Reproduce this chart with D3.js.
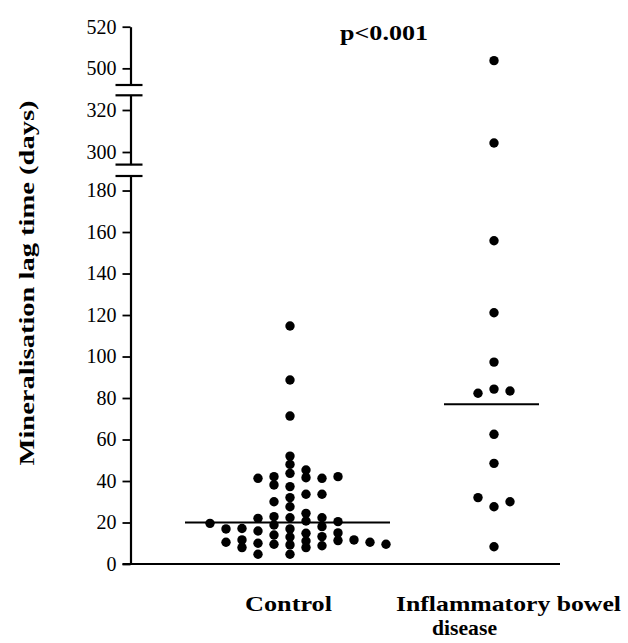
<!DOCTYPE html>
<html>
<head>
<meta charset="utf-8">
<script src="https://cdn.jsdelivr.net/npm/d3@7"></script>
<style>
  html, body { margin: 0; padding: 0; background: #fff; }
  svg { display: block; }
  text { font-family: "Liberation Serif", "Times New Roman", serif; fill: #000; }
</style>
</head>
<body>
<div id="chart"></div>
<script>
// ---- data ----
const groups = ["Control", "Inflammatory bowel disease"];

// Control group: dot value and its column slot in the dot plot
const controlValues = [
  19.6,
  16.9, 10.5,
  17.1, 11.6, 7.9,
  41.3, 22, 15.9, 10, 4.7,
  42.1, 38.1, 30, 22.8, 18.8, 14, 9.5,
  114.7, 88.7, 71.3, 52, 48, 43.7, 37.3, 32, 27.6, 22.3, 16.9, 13, 9.2, 4.7,
  45.3, 41.6, 33.6, 24.4, 20.7, 14.8, 11.1, 7.9,
  41.3, 33.6, 22.3, 18, 13.2, 8.8,
  42.1, 20.4, 15, 11.3,
  11.6,
  10.5,
  9.5
];
const controlSlots = [
  -5,
  -4, -4,
  -3, -3, -3,
  -2, -2, -2, -2, -2,
  -1, -1, -1, -1, -1, -1, -1,
  0, 0, 0, 0, 0, 0, 0, 0, 0, 0, 0, 0, 0, 0,
  1, 1, 1, 1, 1, 1, 1, 1,
  2, 2, 2, 2, 2, 2,
  3, 3, 3, 3,
  4,
  5,
  6
];

const ibdValues = [503.7, 304.3, 155.8, 121.1, 97.3, 84.3, 82.3, 83.4, 62.5, 48.5, 32, 27.6, 30, 8.3];
const ibdSlots  = [0,     0,     0,     0,     0,    0,    -1,   1,    0,    0,    -1, 0,    1,  0];

const medians = [20, 77];

// broken y axis: three segments
const segDomains = [[0, 187], [294, 327], [492, 520]];
const segTicks = [
  [0, 20, 40, 60, 80, 100, 120, 140, 160, 180],
  [300, 320],
  [500, 520]
];
const pText = "p<0.001";
const yTitle = "Mineralisation lag time (days)";
const xLabels = [["Control"], ["Inflammatory bowel", "disease"]];

// ---- layout ----
const W = 628, H = 643;
const axisX = 130.5;
const svg = d3.select("#chart").append("svg").attr("width", W).attr("height", H);

const segRanges = [[564, 176], [164.6, 95.3], [85, 26.7]];
const segScales = segDomains.map((d, i) => d3.scaleLinear().domain(d).range(segRanges[i]));
function yPos(v) {
  for (let i = 0; i < segScales.length; i++) {
    const d = segDomains[i];
    if (v >= d[0] && v <= d[1]) return segScales[i](v);
  }
  return null;
}

const x = d3.scalePoint().domain(groups).range([290, 494]).padding(0);
const slotW = 16;

// y axis segments
segScales.forEach((s, i) => {
  const g = svg.append("g").attr("transform", `translate(${axisX},0)`)
    .call(d3.axisLeft(s).tickValues(segTicks[i]).tickSize(8).tickSizeOuter(0).tickPadding(6).tickFormat(d3.format("d")));
  g.select(".domain").attr("stroke-width", 2.2);
  g.selectAll(".tick line").attr("stroke-width", 1.8);
  g.selectAll(".tick text").style("font-size", "20px").attr("font-family", "Liberation Serif");
});
// break marks
const breaks = [segRanges[0][1], segRanges[1][0], segRanges[1][1], segRanges[2][0]];
svg.append("g").selectAll("line").data(breaks).join("line")
  .attr("x1", axisX - 15).attr("x2", axisX + 12)
  .attr("y1", d => d).attr("y2", d => d)
  .attr("stroke", "#000").attr("stroke-width", 2.2);

// x axis baseline
svg.append("line").attr("x1", axisX - 8).attr("x2", 560)
  .attr("y1", segScales[0](0)).attr("y2", segScales[0](0))
  .attr("stroke", "#000").attr("stroke-width", 2.2);

// medians
const medHalf = [[-105, 100], [-50, 45]];
svg.append("g").selectAll("line").data(medians).join("line")
  .attr("x1", (d, i) => x(groups[i]) + medHalf[i][0])
  .attr("x2", (d, i) => x(groups[i]) + medHalf[i][1])
  .attr("y1", d => yPos(d)).attr("y2", d => yPos(d))
  .attr("stroke", "#000").attr("stroke-width", 2.2);

// dots
const pts = [];
controlValues.forEach((v, i) => pts.push({ g: groups[0], v, s: controlSlots[i] }));
ibdValues.forEach((v, i) => pts.push({ g: groups[1], v, s: ibdSlots[i] }));
svg.append("g").selectAll("circle").data(pts).join("circle")
  .attr("cx", d => x(d.g) + d.s * slotW)
  .attr("cy", d => yPos(d.v))
  .attr("r", 4.7)
  .attr("fill", "#000");

// p value
svg.append("text").attr("x", 384).attr("y", 40).attr("text-anchor", "middle")
  .attr("font-weight", "bold").style("font-size", "22px")
  .attr("textLength", 88).attr("lengthAdjust", "spacingAndGlyphs").text(pText);

// y title
svg.append("text").attr("transform", `translate(34,283) rotate(-90)`)
  .attr("text-anchor", "middle").attr("font-weight", "bold").style("font-size", "22px")
  .attr("textLength", 365).attr("lengthAdjust", "spacingAndGlyphs").text(yTitle);

// x labels
const xLabelPos = [
  [{ cx: 288.5, y: 611, len: 87 }],
  [{ cx: 508.5, y: 611, len: 225 }, { cx: 464.5, y: 635, len: 65 }]
];
xLabels.forEach((lines, gi) => {
  lines.forEach((t, li) => {
    const p = xLabelPos[gi][li];
    svg.append("text").attr("x", p.cx).attr("y", p.y).attr("text-anchor", "middle")
      .attr("font-weight", "bold").style("font-size", "22px")
      .attr("textLength", p.len).attr("lengthAdjust", "spacingAndGlyphs").text(t);
  });
});
</script>
</body>
</html>
